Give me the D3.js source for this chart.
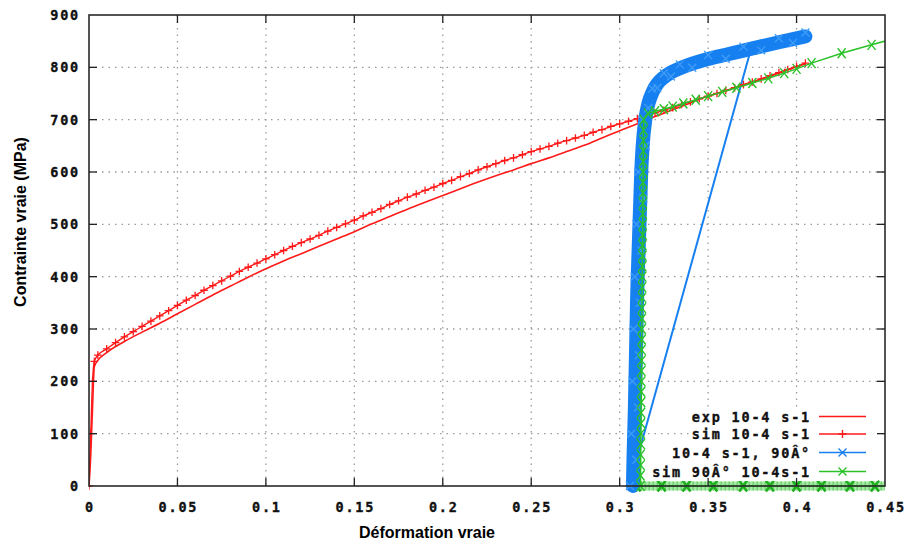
<!DOCTYPE html>
<html><head><meta charset="utf-8">
<script src="https://cdn.jsdelivr.net/npm/d3@7"></script>
<style>body{margin:0;background:#fff}svg{display:block}</style>
</head><body>
<svg id="c" width="912" height="543"></svg>
<script>
// ---------------- data ----------------
const xTicks = [0, 0.05, 0.1, 0.15, 0.2, 0.25, 0.3, 0.35, 0.4, 0.45];
const xTickLabels = ["0", "0.05", "0.1", "0.15", "0.2", "0.25", "0.3", "0.35", "0.4", "0.45"];
const yTicks = [0, 100, 200, 300, 400, 500, 600, 700, 800, 900];
const yTickLabels = ["0", "100", "200", "300", "400", "500", "600", "700", "800", "900"];
const seriesNames = ["exp 10-4 s-1", "sim 10-4 s-1", "10-4 s-1, 90Â°", "sim 90Â° 10-4s-1"];
const xTitle = "Déformation vraie";
const yTitle = "Contrainte vraie (MPa)";

// experimental 10-4 s-1 (solid red)
const expX = [0, 0.001, 0.002, 0.003, 0.005, 0.01, 0.02, 0.03, 0.04, 0.05, 0.06, 0.07, 0.08, 0.09, 0.10,
  0.11, 0.12, 0.13, 0.14, 0.15, 0.16, 0.17, 0.18, 0.19, 0.20, 0.21, 0.22, 0.23, 0.24, 0.25,
  0.26, 0.27, 0.28, 0.29, 0.30, 0.31, 0.32, 0.33, 0.34, 0.35, 0.36, 0.37, 0.38, 0.39, 0.40, 0.405];
const expY = [0, 60, 150, 228, 240, 255, 276, 294, 311, 329, 347, 365, 382, 399, 415,
  430, 444, 458, 472, 486, 501, 515, 529, 542, 555, 568, 581, 593, 604, 616,
  627, 639, 651, 665, 679, 692, 706, 719, 732, 745, 755, 766, 777, 789, 801, 807];

// simulation 10-4 s-1 (red with + marks)
const simX = [0, 0.001, 0.002, 0.003, 0.005, 0.010, 0.015, 0.020, 0.025, 0.030, 0.035, 0.040, 0.045, 0.050,
  0.055, 0.060, 0.065, 0.070, 0.075, 0.080, 0.085, 0.090, 0.095, 0.100, 0.105, 0.110, 0.115, 0.120,
  0.125, 0.130, 0.135, 0.140, 0.145, 0.150, 0.155, 0.160, 0.165, 0.170, 0.175, 0.180, 0.185, 0.190,
  0.195, 0.200, 0.205, 0.210, 0.215, 0.220, 0.225, 0.230, 0.235, 0.240, 0.245, 0.250, 0.255, 0.260,
  0.265, 0.270, 0.275, 0.280, 0.285, 0.290, 0.295, 0.300, 0.305, 0.310, 0.315, 0.320, 0.325, 0.330,
  0.335, 0.340, 0.345, 0.350, 0.355, 0.360, 0.365, 0.370, 0.375, 0.380, 0.385, 0.390, 0.395, 0.400, 0.405];
const simY = [0, 100, 200, 238, 250, 262, 274, 285, 295, 305, 315, 325, 335, 345,
  355, 364, 374, 383, 392, 401, 410, 418, 426, 434, 442, 450, 458, 465,
  472, 479, 487, 494, 501, 508, 516, 523, 530, 538, 545, 552, 558, 565,
  571, 578, 584, 591, 597, 604, 610, 616, 622, 627, 633, 639, 644, 649,
  655, 660, 665, 670, 676, 681, 687, 692, 697, 702, 708, 713, 718, 723,
  729, 734, 740, 745, 750, 756, 761, 767, 772, 778, 784, 790, 796, 802, 808];

// experimental 90° (blue band)
const blueX = [0.3075, 0.3078, 0.3082, 0.3086, 0.3089, 0.3092, 0.3095, 0.3098, 0.3102, 0.3107, 0.3112,
  0.3117, 0.3122, 0.3130, 0.3145, 0.3162, 0.3185, 0.3212, 0.3250, 0.3290, 0.3340, 0.3410, 0.3500,
  0.3600, 0.3700, 0.3800, 0.3900, 0.3980, 0.4050];
const blueY = [0, 50, 100, 150, 200, 250, 300, 350, 400, 450, 500,
  550, 600, 650, 700, 730, 752, 768, 781, 790, 798, 807, 816,
  824, 832, 840, 848, 854, 859];
// blue straight segment
const blueLineX = [0.3735, 0.3056];
const blueLineY = [826, 0];

// simulation 90° (green)
const greenX = [0.3118, 0.3118, 0.3119, 0.3119, 0.3120, 0.3120, 0.3121, 0.3121, 0.3122, 0.3122, 0.3123, 0.3123,
  0.3124, 0.3124, 0.3125, 0.3125, 0.3126, 0.3126, 0.3127, 0.3127, 0.3128, 0.3128, 0.3129, 0.3129,
  0.3130, 0.3130, 0.3131, 0.3131, 0.3132, 0.3132, 0.3133, 0.3133, 0.3134, 0.3134, 0.3135, 0.3136,
  0.316, 0.320, 0.325, 0.330, 0.336, 0.343, 0.350, 0.358, 0.366, 0.375, 0.384, 0.393, 0.400,
  0.4085, 0.4255, 0.4424, 0.452];
const greenY = [0, 20, 40, 60, 80, 100, 120, 140, 160, 180, 200, 220,
  240, 260, 280, 300, 320, 340, 360, 380, 400, 420, 440, 460,
  480, 500, 520, 540, 560, 580, 600, 620, 640, 660, 680, 700,
  712, 716, 720, 725, 731, 738, 745, 753, 761, 770, 779, 789, 797,
  808, 827, 843, 852];
const greenBaseX = [0.3096, 0.3237, 0.3378, 0.3529, 0.3698, 0.3849, 0.4000, 0.4141, 0.4302, 0.4443];
const greenBaseY = [0, 0, 0, 0, 0, 0, 0, 0, 0, 0];

// ---------------- drawing ----------------
const RED = "#ff1a1a", BLUE = "#1780f0", GREEN = "#29c229";
const svg = d3.select("#c");
const x = d3.scaleLinear().domain([0, 0.45]).range([89, 885]);
const y = d3.scaleLinear().domain([0, 900]).range([486, 15]);
const zip = (a, b) => a.map((v, i) => [v, b[i]]);
const line = d3.line().x(d => x(d[0])).y(d => y(d[1]));
const smooth = d3.line().x(d => x(d[0])).y(d => y(d[1])).curve(d3.curveMonotoneX);
const monoFont = "'DejaVu Sans Mono', 'Liberation Mono', monospace";

svg.append("defs").append("clipPath").attr("id", "clip").append("rect")
  .attr("x", 89).attr("y", 10).attr("width", 796).attr("height", 490);

// grid
const grid = svg.append("g").attr("stroke", "#9a9a9a").attr("stroke-width", 1.3)
  .attr("stroke-dasharray", "1.5,5");
grid.selectAll(".gx").data(xTicks.slice(1, -1)).join("line")
  .attr("x1", d => x(d)).attr("x2", d => x(d)).attr("y1", y(900)).attr("y2", y(0));
grid.selectAll(".gy").data(yTicks.slice(1, -1)).join("line")
  .attr("x1", x(0)).attr("x2", x(0.45)).attr("y1", d => y(d)).attr("y2", d => y(d));

const plot = svg.append("g").attr("clip-path", "url(#clip)");

function plus(g, px, py, s, color, w) {
  g.append("path").attr("d", `M${px - s},${py}H${px + s}M${px},${py - s}V${py + s}`)
    .attr("stroke", color).attr("stroke-width", w).attr("fill", "none");
}
function cross(g, px, py, sx, sy, color, w) {
  g.append("path").attr("d", `M${px - sx},${py - sy}L${px + sx},${py + sy}M${px - sx},${py + sy}L${px + sx},${py - sy}`)
    .attr("stroke", color).attr("stroke-width", w).attr("fill", "none");
}

// green base band
plot.append("path").datum(zip([0.305, 0.45], [0, 0])).attr("d", line)
  .attr("stroke", "#a6e8a6").attr("stroke-width", 9).attr("fill", "none");
plot.append("path").datum(zip([0.305, 0.45], [0, 0])).attr("d", line)
  .attr("stroke", "#6fd46f").attr("stroke-width", 9).attr("stroke-dasharray", "1.5,2.5").attr("fill", "none");
plot.append("path").datum(zip([0.305, 0.45], [0, 0])).attr("d", line)
  .attr("stroke", GREEN).attr("stroke-width", 1.5).attr("fill", "none");
greenBaseX.forEach((v, i) => cross(plot, x(v), y(greenBaseY[i]), 4, 5.5, "#1fb01f", 2.6));

// blue thin line
plot.append("path").datum(zip(blueLineX, blueLineY)).attr("d", line)
  .attr("stroke", BLUE).attr("stroke-width", 2).attr("fill", "none");

// red exp
plot.append("path").datum(zip(expX, expY)).attr("d", smooth)
  .attr("stroke", RED).attr("stroke-width", 1.6).attr("fill", "none");
// red sim
plot.append("path").datum(zip(simX, simY)).attr("d", smooth)
  .attr("stroke", RED).attr("stroke-width", 1.4).attr("fill", "none");
simX.forEach((v, i) => plus(plot, x(v), y(simY[i]), 3.8, RED, 1.3));

// blue band
plot.append("path").datum(zip(blueX, blueY)).attr("d", smooth)
  .attr("stroke", BLUE).attr("stroke-width", 14).attr("stroke-linejoin", "round")
  .attr("stroke-linecap", "round").attr("fill", "none");
blueX.forEach((v, i) => {
  const o = (i % 2 === 0) ? 5 : -5;
  cross(plot, x(v) - (i < 15 ? o * 0.6 : 0), y(blueY[i]) - (i >= 15 ? o * 0.8 : 0), 4, 4, "#3f9cf8", 1.3);
});

// green sim
plot.append("path").datum(zip(greenX, greenY)).attr("d", line)
  .attr("stroke", GREEN).attr("stroke-width", 1.5).attr("fill", "none");
greenX.slice(0, -1).forEach((v, i) => cross(plot, x(v), y(greenY[i]), 4, 5, GREEN, 1.4));

// legend (opaque behind text)
const leg = svg.append("g");
const rowsY = [416.5, 434, 452.5, 471.5];
seriesNames.forEach((name, i) => {
  const ry = rowsY[i];
  const bg = leg.append("rect").attr("fill", "#fff");
  const t = leg.append("text").attr("x", 811).attr("y", ry + 5).attr("text-anchor", "end")
    .attr("font-family", monoFont).attr("font-weight", "bold").attr("font-size", 13.5)
    .attr("letter-spacing", 1.8).attr("fill", "#111").attr("stroke", "#111").attr("stroke-width", 0.35)
    .text(name);
  const bb = t.node().getBBox();
  bg.attr("x", bb.x - 2).attr("y", ry - 9).attr("width", 880 - bb.x).attr("height", 18.5);
  const col = i < 2 ? RED : (i === 2 ? BLUE : GREEN);
  leg.append("line").attr("x1", 819).attr("x2", 866).attr("y1", ry).attr("y2", ry)
    .attr("stroke", col).attr("stroke-width", 1.6);
  if (i === 1) plus(leg, 842.5, ry, 4, col, 1.4);
  if (i >= 2) cross(leg, 842.5, ry, 4, 4, col, 1.4);
});

// frame & ticks
const fr = svg.append("g");
fr.append("rect").attr("x", 89).attr("y", 15).attr("width", 796).attr("height", 471)
  .attr("fill", "none").attr("stroke", "#2a2a2a").attr("stroke-width", 1.6);
xTicks.slice(1, -1).forEach(t => {
  fr.append("line").attr("x1", x(t)).attr("x2", x(t)).attr("y1", 486).attr("y2", 478).attr("stroke", "#222").attr("stroke-width", 1.3);
  fr.append("line").attr("x1", x(t)).attr("x2", x(t)).attr("y1", 15).attr("y2", 23).attr("stroke", "#222").attr("stroke-width", 1.3);
});
yTicks.slice(1, -1).forEach(t => {
  fr.append("line").attr("x1", 89).attr("x2", 97).attr("y1", y(t)).attr("y2", y(t)).attr("stroke", "#222").attr("stroke-width", 1.3);
  fr.append("line").attr("x1", 885).attr("x2", 877).attr("y1", y(t)).attr("y2", y(t)).attr("stroke", "#222").attr("stroke-width", 1.3);
});

// tick labels
svg.append("g").selectAll("text").data(xTicks).join("text")
  .attr("x", d => x(d) + 1).attr("y", 512).attr("text-anchor", "middle")
  .attr("font-family", monoFont).attr("font-weight", "bold").attr("font-size", 13.5)
  .attr("letter-spacing", 1.8).attr("fill", "#111").attr("stroke", "#111").attr("stroke-width", 0.35)
  .text((d, i) => xTickLabels[i]);
svg.append("g").selectAll("text").data(yTicks).join("text")
  .attr("x", 80).attr("y", d => y(d) + 5).attr("text-anchor", "end")
  .attr("font-family", monoFont).attr("font-weight", "bold").attr("font-size", 13.5)
  .attr("letter-spacing", 1.8).attr("fill", "#111").attr("stroke", "#111").attr("stroke-width", 0.35)
  .text((d, i) => yTickLabels[i]);

// titles
svg.append("text").attr("x", 427).attr("y", 538).attr("text-anchor", "middle")
  .attr("font-family", "'Liberation Sans', Arial, sans-serif").attr("font-weight", "bold")
  .attr("font-size", 16).attr("fill", "#000").text(xTitle);
svg.append("text").attr("transform", "translate(26,222) rotate(-90)").attr("text-anchor", "middle")
  .attr("font-family", "'Liberation Sans', Arial, sans-serif").attr("font-weight", "bold")
  .attr("font-size", 16).attr("fill", "#000").text(yTitle);
</script>
</body></html>
